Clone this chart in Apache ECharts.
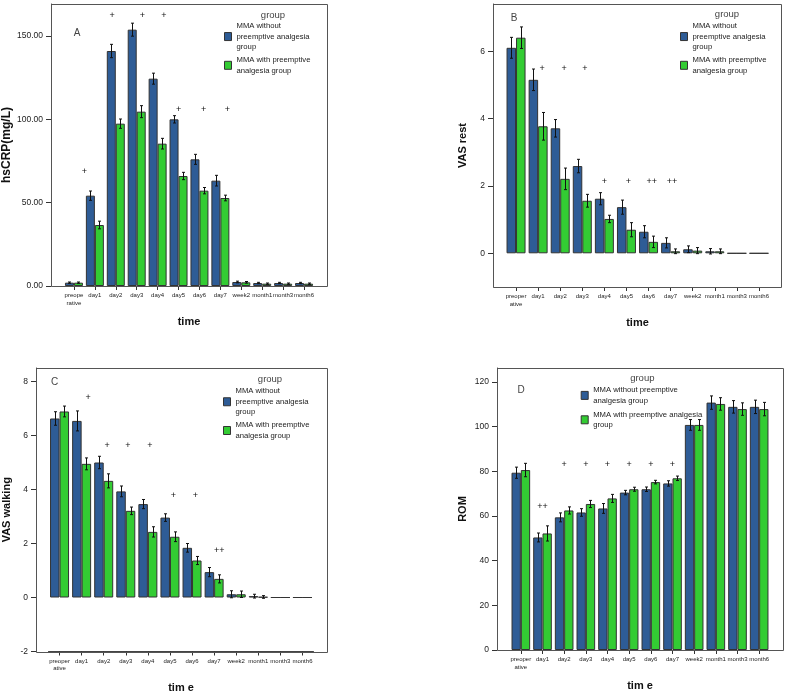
<!DOCTYPE html>
<html><head><meta charset="utf-8">
<script src="https://cdn.jsdelivr.net/npm/echarts@6/dist/echarts.min.js"></script>
<style>html,body{margin:0;padding:0;background:#fff}#c{width:787px;height:694px}</style>
</head><body><div id="c"></div>
<script>
// ---------- data ----------
const catsA = ['preope\nrative','day1','day2','day3','day4','day5','day6','day7','week2','month1','month3','month6'];
const catsB = ['preoper\native','day1','day2','day3','day4','day5','day6','day7','week2','month1','month3','month6'];
const groupNames = ['MMA without preemptive analgesia group','MMA with preemptive analgesia group'];

// A: hsCRP (mg/L)
const hsWithout    = [2.0, 54.2, 141.0, 153.8, 124.4, 100.0, 76.0, 63.2, 2.4, 1.8, 1.8, 1.8];
const hsWithoutErr = [0.4, 2.8, 4.0, 3.9, 3.3, 2.2, 3.0, 3.2, 0.5, 0.4, 0.4, 0.4];
const hsWith       = [2.0, 36.6, 97.4, 104.6, 85.4, 66.0, 57.2, 52.8, 2.2, 1.4, 1.4, 1.4];
const hsWithErr    = [0.4, 2.3, 2.8, 3.6, 3.2, 2.2, 1.9, 1.7, 0.5, 0.4, 0.4, 0.4];
const hsMarkCat    = ['day1','day2','day3','day4','day5','day6','day7'];
const hsMarkY      = [68.8, 162, 162, 162, 106, 106, 106];
const hsMarkText   = ['+','+','+','+','+','+','+'];
const hsMarkShift  = [-0.5, -0.17, 0.27, 0.3, 0, 0.2, 0.33];
const hsTicks      = [0, 50, 100, 150];

// B: VAS rest
const restWithout    = [6.10, 5.15, 3.71, 2.59, 1.62, 1.37, 0.64, 0.31, 0.12, 0.06, 0, 0];
const restWithoutErr = [0.31, 0.32, 0.26, 0.20, 0.18, 0.21, 0.18, 0.15, 0.10, 0.08, 0, 0];
const restWith       = [6.40, 3.77, 2.21, 1.56, 1.02, 0.70, 0.34, 0.06, 0.08, 0.06, 0, 0];
const restWithErr    = [0.32, 0.41, 0.32, 0.19, 0.11, 0.21, 0.17, 0.07, 0.09, 0.07, 0, 0];
const restMarkCat    = ['day1','day2','day3','day4','day5','day6','day7'];
const restMarkY      = [5.49, 5.49, 5.49, 2.14, 2.14, 2.14, 2.14];
const restMarkText   = ['+','+','+','+','+','++','++'];
const restMarkShift  = [0.18, 0.18, 0.12, 0, 0.09, 0.14, 0.06];
const restTicks      = [0, 2, 4, 6];

// C: VAS walking
const walkWithout    = [6.63, 6.54, 5.00, 3.93, 3.46, 2.96, 1.84, 0.94, 0.12, 0.05, 0, 0];
const walkWithoutErr = [0.25, 0.37, 0.23, 0.20, 0.17, 0.14, 0.16, 0.17, 0.13, 0.07, 0, 0];
const walkWith       = [6.89, 4.95, 4.32, 3.21, 2.43, 2.25, 1.37, 0.69, 0.12, 0.02, 0, 0];
const walkWithErr    = [0.20, 0.22, 0.26, 0.14, 0.19, 0.18, 0.15, 0.15, 0.12, 0.05, 0, 0];
const walkMarkCat    = ['day1','day2','day3','day4','day5','day6','day7'];
const walkMarkY      = [7.4, 5.64, 5.64, 5.64, 3.78, 3.78, 1.73];
const walkMarkText   = ['+','+','+','+','+','+','++'];
const walkMarkShift  = [0.29, 0.15, 0.1, 0.09, 0.15, 0.15, 0.23];
const walkTicks      = [-2, 0, 2, 4, 6, 8];

// D: ROM
const romWithout    = [79.4, 50.4, 59.4, 61.6, 63.4, 70.5, 72.0, 74.6, 100.8, 110.8, 108.9, 108.9];
const romWithoutErr = [2.5, 2.0, 2.0, 1.7, 2.2, 1.0, 1.0, 1.2, 2.4, 3.0, 2.8, 3.0];
const romWith       = [80.6, 52.2, 62.5, 65.4, 67.9, 72.0, 75.2, 76.9, 100.8, 110.2, 107.9, 107.9];
const romWithErr    = [3.0, 3.4, 1.6, 1.6, 1.8, 0.9, 0.8, 1.0, 2.4, 2.8, 2.8, 3.0];
const romMarkCat    = ['day1','day2','day3','day4','day5','day6','day7'];
const romMarkY      = [64.2, 83.2, 83.2, 83.2, 83.2, 83.2, 83.2];
const romMarkText   = ['++','+','+','+','+','+','+'];
const romMarkShift  = [0, 0, 0, 0, 0, 0, 0];
const romTicks      = [0, 20, 40, 60, 80, 100, 120];

// ---------- styles / layout ----------
const FONT = 'Liberation Sans, Arial, sans-serif';
const BLUE = '#2E5C96', GREEN = '#33CC33', EDGE = '#333333';
const GAP = 0.14;

const panels = [
  {cats: catsA, a: hsWithout, ae: hsWithoutErr, b: hsWith, be: hsWithErr,
   mc: hsMarkCat, my: hsMarkY, mt: hsMarkText, ms: hsMarkShift, ticks: hsTicks, dec: 2,
   yname: 'hsCRP(mg/L)', xname: 'time', ynameSize: 12, ynameGap: 44,
   frame: [51, 4, 276, 282], grid: {left: 63.5, width: 251, top: 4, height: 282}, yOff: 12.5,
   ymin: 0, ymax: 169.2, letter: 'A', letterPos: [77, 33], groupPos: [273, 15],
   legend: {left: 224, top: 20.8, lh: 10.5, gap: 2.5,
            f: ['MMA without\npreemptive analgesia\ngroup', 'MMA with preemptive\nanalgesia group']}},
  {cats: catsB, a: restWithout, ae: restWithoutErr, b: restWith, be: restWithErr,
   mc: restMarkCat, my: restMarkY, mt: restMarkText, ms: restMarkShift, ticks: restTicks, dec: 0,
   yname: 'VAS rest', xname: 'time', ynameSize: 11, ynameGap: 30,
   frame: [493, 4, 288, 283], grid: {left: 505, width: 265, top: 4, height: 283}, yOff: 12,
   ymin: -1, ymax: 7.4, letter: 'B', letterPos: [514, 18], groupPos: [727, 14],
   legend: {left: 680, top: 20.8, lh: 10.5, gap: 2.5,
            f: ['MMA without\npreemptive analgesia\ngroup', 'MMA with preemptive\nanalgesia group']}},
  {cats: catsB, a: walkWithout, ae: walkWithoutErr, b: walkWith, be: walkWithErr,
   mc: walkMarkCat, my: walkMarkY, mt: walkMarkText, ms: walkMarkShift, ticks: walkTicks, dec: 0,
   yname: 'VAS walking', xname: 'tim e', ynameSize: 11, ynameGap: 28.7,
   frame: [36, 368, 291, 284], grid: {left: 48.5, width: 265, top: 368, height: 284}, yOff: 12.5,
   ymin: -2, ymax: 8.5, letter: 'C', letterPos: [54.7, 382.7], groupPos: [270, 379],
   legend: {left: 223, top: 386, lh: 10.5, gap: 2.5,
            f: ['MMA without\npreemptive analgesia\ngroup', 'MMA with preemptive\nanalgesia group']}},
  {cats: catsB, a: romWithout, ae: romWithoutErr, b: romWith, be: romWithErr,
   mc: romMarkCat, my: romMarkY, mt: romMarkText, ms: romMarkShift, ticks: romTicks, dec: 0,
   yname: 'ROM', xname: 'tim e', ynameSize: 11, ynameGap: 33.7,
   frame: [497, 368, 286, 282], grid: {left: 510, width: 260, top: 368, height: 282}, yOff: 13,
   ymin: 0, ymax: 126.3, letter: 'D', letterPos: [521, 390.3], groupPos: [642.3, 378],
   legend: {left: 580.7, top: 384.7, lh: 10.7, gap: 3,
            f: ['MMA without preemptive\nanalgesia group', 'MMA with preemptive analgesia\ngroup']}}
];

function errRender(side) {
  return function (params, api) {
    const lo = api.value(1), hi = api.value(2);
    if (hi - lo <= 0) return null;
    const i = api.value(0);
    const pLo = api.coord([i, lo]), pHi = api.coord([i, hi]);
    const band = api.size([1, 0])[0];
    const bw = band * (1 - GAP) / 2;
    const x = Math.round(pLo[0] + side * bw / 2) + 0.5;
    const cap = 1.5, st = {stroke: '#111', lineWidth: 1};
    return {type: 'group', children: [
      {type: 'line', shape: {x1: x, y1: pLo[1], x2: x, y2: pHi[1]}, style: st},
      {type: 'line', shape: {x1: x - cap, y1: pLo[1], x2: x + cap, y2: pLo[1]}, style: st},
      {type: 'line', shape: {x1: x - cap, y1: pHi[1], x2: x + cap, y2: pHi[1]}, style: st}
    ]};
  };
}
function markRender(texts, shifts) {
  return function (params, api) {
    const p = api.coord([api.value(0), api.value(1)]);
    const band = api.size([1, 0])[0];
    return {type: 'text', x: p[0] + shifts[params.dataIndex] * band, y: p[1],
      style: {text: texts[params.dataIndex], fill: '#111', font: '9px ' + FONT,
              align: 'center', verticalAlign: 'middle'}};
  };
}

const grid = [], xAxis = [], yAxis = [], series = [], legend = [], graphic = [];
panels.forEach((p, k) => {
  grid.push(Object.assign({containLabel: false}, p.grid));
  xAxis.push({type: 'category', gridIndex: k, data: p.cats,
    name: p.xname, nameLocation: 'middle', nameGap: 36,
    nameTextStyle: {fontSize: 11, fontWeight: 'bold', color: '#111', verticalAlign: 'middle', fontFamily: FONT},
    axisLine: {show: true, onZero: false, lineStyle: {color: '#444', width: 1}},
    axisTick: {show: true, alignWithLabel: true, length: 4, lineStyle: {color: '#333'}},
    axisLabel: {interval: 0, fontSize: 6, lineHeight: 7.5, margin: 6, color: '#222', fontFamily: FONT},
    splitLine: {show: false}});
  yAxis.push({type: 'value', gridIndex: k, min: p.ymin, max: p.ymax, offset: p.yOff,
    name: p.yname, nameLocation: 'middle', nameGap: p.ynameGap,
    nameTextStyle: {fontSize: p.ynameSize, fontWeight: 'bold', color: '#111', verticalAlign: 'middle', fontFamily: FONT},
    axisLine: {show: true, lineStyle: {color: '#444', width: 1}},
    axisTick: {show: true, length: 5, customValues: p.ticks, lineStyle: {color: '#333'}},
    axisLabel: {customValues: p.ticks, fontSize: 8.5, margin: 8, color: '#222', fontFamily: FONT,
                formatter: v => Number(v).toFixed(p.dec)},
    splitLine: {show: false}});
  [[p.a, BLUE], [p.b, GREEN]].forEach((s, j) => {
    series.push({type: 'bar', name: groupNames[j], xAxisIndex: k, yAxisIndex: k, data: s[0],
      barGap: '0%', barCategoryGap: (GAP * 100) + '%',
      itemStyle: {color: s[1], borderColor: EDGE, borderWidth: 1}, silent: true});
  });
  [[p.a, p.ae, -1], [p.b, p.be, 1]].forEach(s => {
    series.push({type: 'custom', xAxisIndex: k, yAxisIndex: k, z: 5, silent: true,
      renderItem: errRender(s[2]), encode: {x: 0, y: [1, 2]},
      data: s[0].map((v, i) => [i, v - s[1][i], v + s[1][i]])});
  });
  series.push({type: 'custom', xAxisIndex: k, yAxisIndex: k, z: 6, silent: true,
    renderItem: markRender(p.mt, p.ms), encode: {x: 0, y: 1},
    data: p.mc.map((c, i) => [p.cats.indexOf(c), p.my[i]])});
  legend.push({orient: 'vertical', left: p.legend.left, top: p.legend.top, padding: 0,
    icon: 'rect', itemWidth: 7, itemHeight: 8, itemGap: p.legend.gap, selectedMode: false,
    itemStyle: {borderColor: EDGE, borderWidth: 1},
    data: groupNames, formatter: n => n === groupNames[0] ? p.legend.f[0] : p.legend.f[1],
    textStyle: {fontSize: 7.7, lineHeight: p.legend.lh, color: '#222', fontFamily: FONT}});
  graphic.push({type: 'rect', silent: true, z: 10,
    shape: {x: p.frame[0] + 0.5, y: p.frame[1] + 0.5, width: p.frame[2], height: p.frame[3]},
    style: {fill: 'none', stroke: '#555', lineWidth: 1}});
  graphic.push({type: 'text', x: p.groupPos[0], y: p.groupPos[1], silent: true,
    style: {text: 'group', font: '9.5px ' + FONT, fill: '#444', align: 'center', verticalAlign: 'middle'}});
  graphic.push({type: 'text', x: p.letterPos[0], y: p.letterPos[1], silent: true,
    style: {text: p.letter, font: '10px ' + FONT, fill: '#444', align: 'center', verticalAlign: 'middle'}});
});

const chart = echarts.init(document.getElementById('c'), null, {renderer: 'canvas'});
chart.setOption({animation: false, backgroundColor: '#fff', textStyle: {fontFamily: FONT},
  grid, xAxis, yAxis, series, legend, graphic});
</script></body></html>
